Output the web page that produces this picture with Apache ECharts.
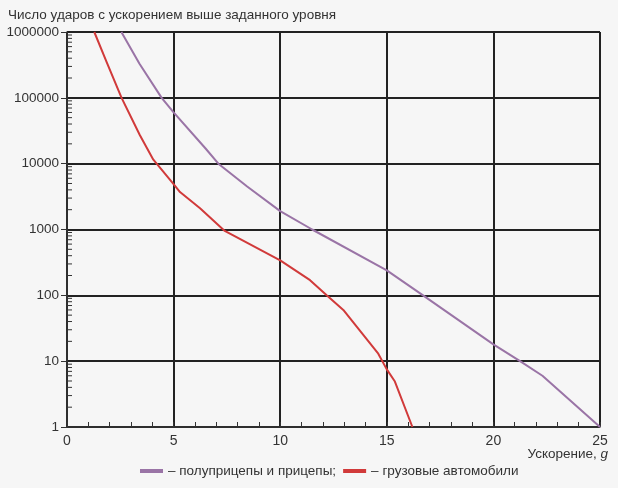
<!DOCTYPE html>
<html>
<head>
<meta charset="utf-8">
<script src="https://cdn.jsdelivr.net/npm/echarts@6/dist/echarts.min.js"></script>
<style>
html,body{margin:0;padding:0;background:#f6f6f6;}
#c{width:618px;height:488px;}
</style>
</head>
<body>
<div id="c"></div>
<script>
// Data
const titleText = 'Число ударов с ускорением выше заданного уровня';
const xAxisName = 'Ускорение, ';
const seriesNames = ['– полуприцепы и прицепы;', '– грузовые автомобили'];
const trailerX = [2.55, 3.4, 4.44, 5.0, 6.5, 7.1, 8.45, 10, 11.5, 15, 16.7, 20, 21.25, 22.3, 25];
const trailerY = [1000000, 330000, 100000, 60000, 17000, 10000, 4500, 1900, 1000, 240, 100, 18, 10, 6, 1];
const truckX = [1.28, 1.86, 2.56, 3.42, 4.05, 5.0, 5.3, 6.24, 7.4, 10, 11.4, 12.18, 12.96, 14.6, 15.0, 15.38, 16.2];
const truckY = [1000000, 350000, 100000, 27000, 11500, 4900, 3700, 2100, 950, 340, 170, 100, 60, 13, 7.5, 4.9, 1];
const yMinorFactors = [2, 3, 4, 5, 6, 7, 8, 9];
const yDecades = [1, 10, 100, 1000, 10000, 100000];

const minorTicks = [];
yDecades.forEach(d => yMinorFactors.forEach(f => minorTicks.push([0, d * f])));

const font = '"Liberation Sans", Arial, sans-serif';
const chart = echarts.init(document.getElementById('c'));
chart.setOption({
  backgroundColor: '#f6f6f6',
  animation: false,
  textStyle: { fontFamily: font },
  title: [
    { text: titleText, left: 8, top: 8, padding: 0,
      textStyle: { fontSize: 13.5, fontWeight: 'normal', color: '#333', fontFamily: font } },
    { text: '{a|' + xAxisName + '}{b|g}', right: 10, top: 447, padding: 0,
      textStyle: { fontWeight: 'normal', rich: {
        a: { fontSize: 13.5, color: '#333', fontWeight: 'normal', fontFamily: font },
        b: { fontSize: 13.5, color: '#333', fontWeight: 'normal', fontStyle: 'italic', fontFamily: font } } } }
  ],
  legend: {
    data: seriesNames,
    top: 464, left: 140, padding: 0,
    icon: 'rect', itemWidth: 23, itemHeight: 4, itemGap: 7,
    textStyle: { fontSize: 13.5, color: '#333', fontFamily: font }
  },
  grid: { left: 67, right: 18, top: 32, bottom: 61 },
  xAxis: {
    type: 'value', min: 0, max: 25, interval: 5,
    axisLine: { lineStyle: { color: '#333', width: 1.5 } },
    axisTick: { show: true, inside: true, length: 5, lineStyle: { color: '#333' } },
    minorTick: { show: true, splitNumber: 5, length: 5, lineStyle: { color: '#333' } },
    axisLabel: { fontSize: 14, color: '#333', margin: 7 },
    splitLine: { show: true, lineStyle: { color: '#222', width: 2 } }
  },
  yAxis: {
    type: 'log', logBase: 10, min: 1, max: 1000000, splitNumber: 6,
    axisLine: { show: true, lineStyle: { color: '#333', width: 1.5 } },
    axisTick: { show: true, inside: false, length: 6, lineStyle: { color: '#333' } },
    axisLabel: { fontSize: 13.5, color: '#333', margin: 8, formatter: v => String(v) },
    splitLine: { show: true, lineStyle: { color: '#222', width: 2 } }
  },
  series: [
    { name: seriesNames[0], type: 'line', symbol: 'none', color: '#9a74a6',
      lineStyle: { width: 2 }, data: trailerX.map((x, i) => [x, trailerY[i]]), z: 5 },
    { name: seriesNames[1], type: 'line', symbol: 'none', color: '#d13a3a',
      lineStyle: { width: 2 }, data: truckX.map((x, i) => [x, truckY[i]]), z: 5 },
    { name: 'minor', type: 'custom', silent: true, z: 6,
      renderItem: function (params, api) {
        const p = api.coord([api.value(0), api.value(1)]);
        return { type: 'line', shape: { x1: p[0], y1: p[1], x2: p[0] + 5, y2: p[1] },
          style: { stroke: '#333', lineWidth: 1 } };
      },
      data: minorTicks }
  ]
});
</script>
</body>
</html>
